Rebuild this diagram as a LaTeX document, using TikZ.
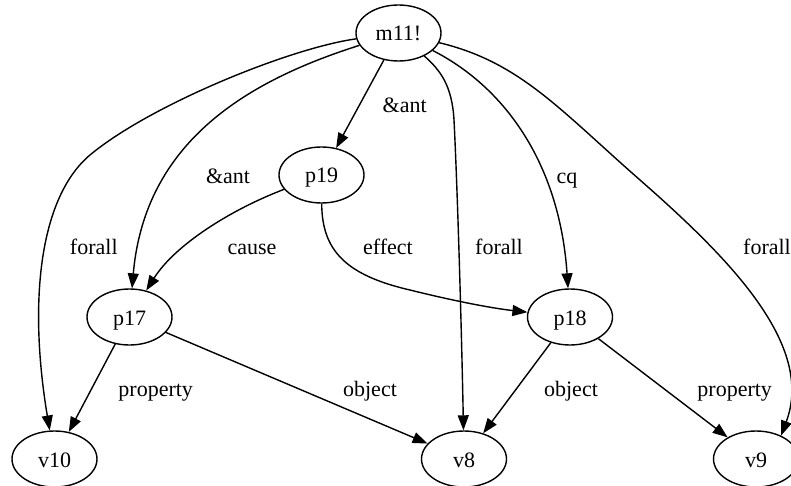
\documentclass[tikz,border=0pt]{standalone}
\usepackage{fontspec}
\setmainfont{Liberation Serif}
\usetikzlibrary{shapes.geometric,arrows.meta}
\begin{document}
\begin{tikzpicture}[x=1pt,y=-1pt,
  every node/.style={font=\fontsize{22}{26}\selectfont},
  state/.style={ellipse,draw,line width=1.4pt,minimum width=85pt,minimum height=56pt,
    inner sep=0pt,text height=16pt,text depth=0pt},
  lbl/.style={anchor=base,inner sep=0pt},
  edge/.style={draw,line width=1.4pt,-{Triangle[length=15pt,width=11pt]}}]
  \fill[white] (0,0) rectangle (791,486);
  \useasboundingbox (0,0) rectangle (791,486);

  % nodes
  \node[state] (m11) at (398.5,33) {m11!};
  \node[state] (p19) at (321.5,175) {p19};
  \node[state] (p17) at (129.5,317) {p17};
  \node[state] (p18) at (570,317) {p18};
  \node[state] (v10) at (54.5,459) {v10};
  \node[state] (v8)  at (464,459) {v8};
  \node[state] (v9)  at (756,459) {v9};

  % edges
  \draw[edge] (m11) .. controls (290,48) and (150,105) .. (90,155)
                    .. controls (40,197) and (28,300) .. (v10);
  \draw[edge] (m11) .. controls (250,80) and (145,140) .. (p17);
  \draw[edge] (m11) -- (p19);
  \draw[edge] (m11) .. controls (440,70) and (452,85) .. (454,120)
                    .. controls (458,200) and (462,350) .. (v8);
  \draw[edge] (m11) .. controls (510,90) and (560,170) .. (p18);
  \draw[edge] (m11) .. controls (520,62) and (560,110) .. (640,180)
                    .. controls (730,259) and (815,345) .. (v9.43);
  \draw[edge] (p19) .. controls (230,210) and (175,245) .. (p17);
  \draw[edge] (p19) .. controls (322,250) and (345,275) .. (410,290)
                    .. controls (450,300) and (490,308) .. (p18);
  \draw[edge] (p17) -- (v10);
  \draw[edge] (p17) -- (v8);
  \draw[edge] (p18) -- (v8);
  \draw[edge] (p18) -- (v9);

  % edge labels
  \node[lbl] (l1)  at (404.7,113) {\&ant};
  \node[lbl] (l2)  at (228,184) {\&ant};
  \node[lbl] (l3)  at (567,184) {cq};
  \node[lbl] (l4)  at (93.8,254) {forall};
  \node[lbl] (l5)  at (252,254) {cause};
  \node[lbl] (l6)  at (388,254) {effect};
  \node[lbl] (l7)  at (499,254) {forall};
  \node[lbl] (l8)  at (767,254) {forall};
  \node[lbl] (l9)  at (155.7,396) {property};
  \node[lbl] (l10) at (370,396) {object};
  \node[lbl] (l11) at (571,396) {object};
  \node[lbl] (l12) at (734.7,396) {property};
\end{tikzpicture}
\end{document}
